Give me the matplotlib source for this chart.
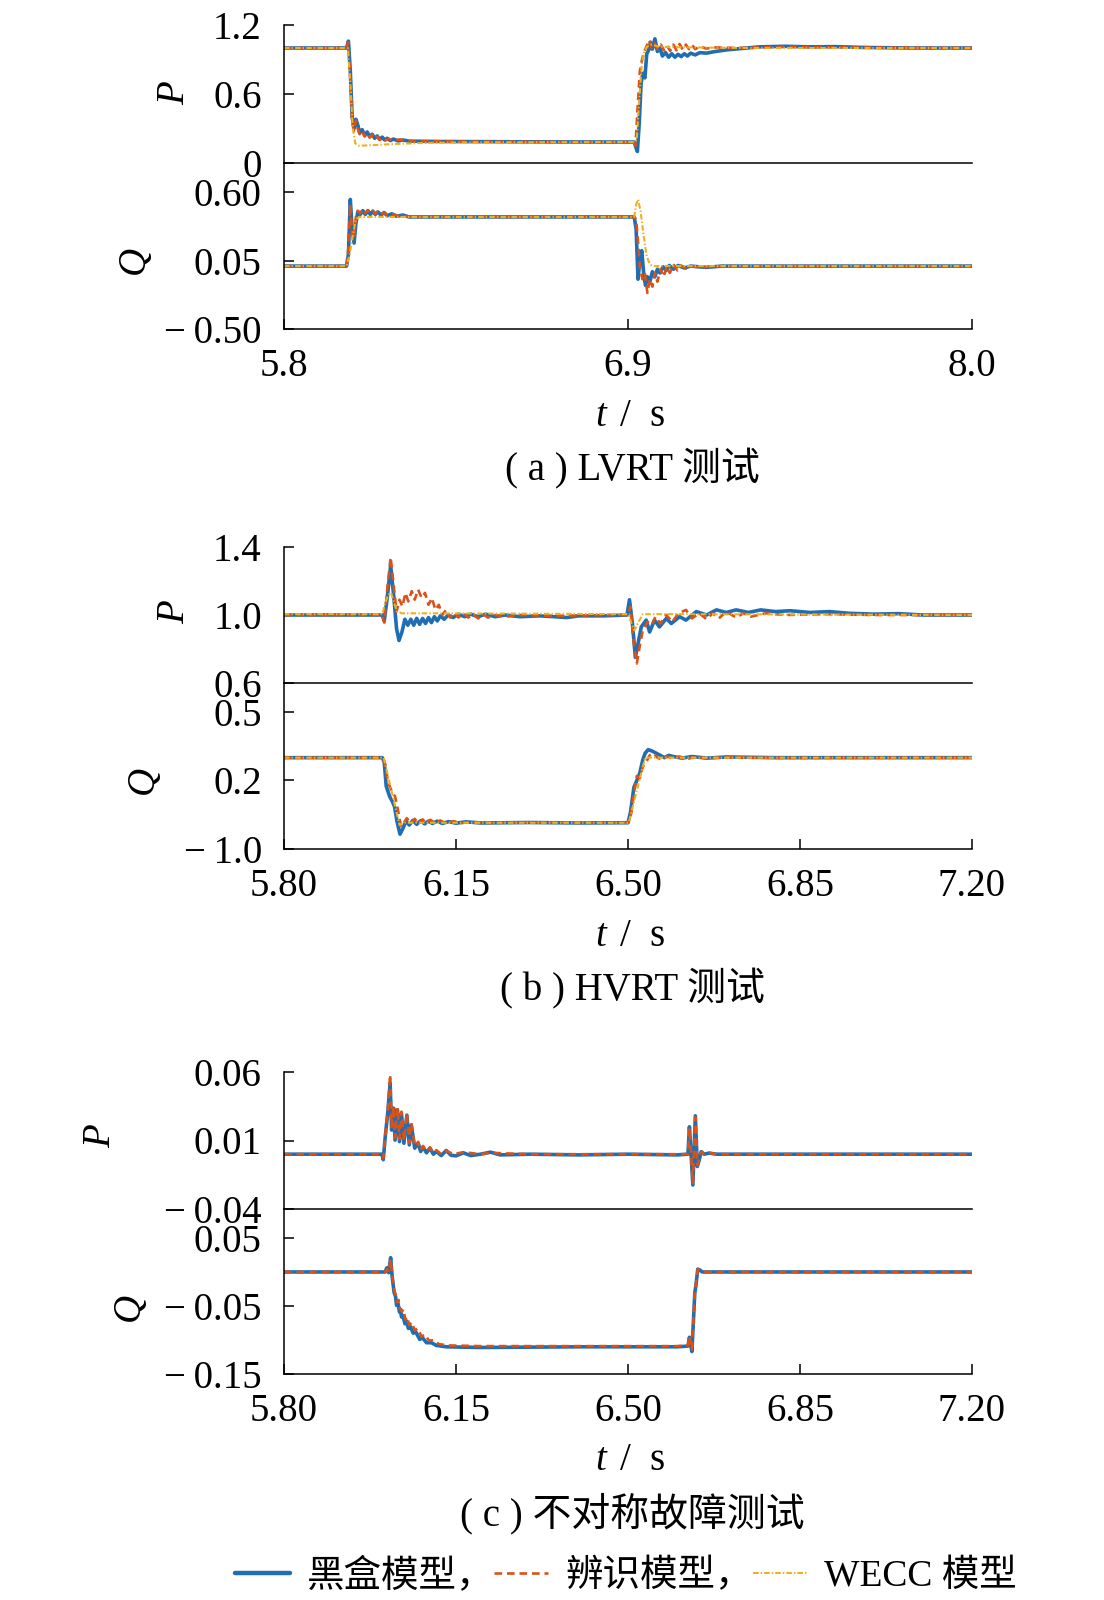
import numpy as np
import matplotlib
matplotlib.use('Agg')
import matplotlib.pyplot as plt
from matplotlib.lines import Line2D

plt.rcParams['font.family'] = ['Liberation Serif', 'Noto Sans CJK SC', 'DejaVu Sans']
plt.rcParams['mathtext.fontset'] = 'custom'
plt.rcParams['mathtext.it'] = 'Liberation Serif:italic'
plt.rcParams['mathtext.rm'] = 'Liberation Serif'
plt.rcParams['lines.scale_dashes'] = False

# ---------------- data (t [s], value) ----------------
series_names = ['黑盒模型，', '辨识模型，', 'WECC 模型']

# (a) LVRT
a_P_black = [(5.80,1.0),(6.000,1.0),(6.006,1.06),(6.012,0.80),(6.018,0.40),(6.024,0.30),(6.030,0.38),(6.036,0.33),(6.042,0.26),(6.050,0.29),(6.058,0.24),(6.066,0.27),(6.074,0.23),(6.082,0.25),(6.090,0.215),(6.098,0.235),(6.106,0.205),(6.114,0.225),(6.122,0.200),(6.130,0.215),(6.140,0.195),(6.150,0.208),(6.165,0.192),(6.180,0.200),(6.20,0.19),(6.30,0.187),(6.50,0.185),(6.70,0.183),(6.920,0.182),(6.926,0.13),(6.930,0.10),(6.936,0.35),(6.942,0.70),(6.948,0.78),(6.954,0.74),(6.960,0.95),(6.966,0.98),(6.972,1.05),(6.978,0.99),(6.986,1.08),(6.994,0.97),(7.002,1.00),(7.010,0.93),(7.020,0.96),(7.030,0.92),(7.040,0.95),(7.050,0.92),(7.060,0.945),(7.070,0.925),(7.080,0.95),(7.090,0.93),(7.100,0.955),(7.115,0.94),(7.130,0.96),(7.150,0.955),(7.180,0.97),(7.22,0.985),(7.26,0.995),(7.32,1.01),(7.40,1.015),(7.48,1.01),(7.56,1.012),(7.65,1.005),(7.80,1.0),(8.00,1.0)]
a_P_ident = [(5.80,1.0),(6.000,1.0),(6.005,1.05),(6.012,0.75),(6.018,0.35),(6.024,0.28),(6.030,0.37),(6.036,0.30),(6.042,0.25),(6.050,0.28),(6.058,0.23),(6.066,0.26),(6.074,0.22),(6.082,0.245),(6.090,0.21),(6.098,0.23),(6.106,0.20),(6.114,0.22),(6.125,0.197),(6.135,0.21),(6.15,0.195),(6.17,0.205),(6.20,0.19),(6.40,0.186),(6.70,0.183),(6.918,0.182),(6.924,0.15),(6.930,0.45),(6.938,0.80),(6.945,0.90),(6.952,0.97),(6.960,1.02),(6.968,1.07),(6.976,1.0),(6.985,1.04),(6.995,0.99),(7.005,1.03),(7.015,0.98),(7.025,1.02),(7.035,0.975),(7.045,1.03),(7.055,0.98),(7.065,1.035),(7.075,0.985),(7.085,1.03),(7.095,0.99),(7.105,1.025),(7.115,0.99),(7.13,1.015),(7.15,0.995),(7.18,1.005),(7.25,1.0),(7.40,1.01),(7.60,1.005),(8.00,1.0)]
a_P_wecc = [(5.80,1.0),(6.004,1.0),(6.012,0.70),(6.020,0.30),(6.028,0.17),(6.040,0.15),(6.080,0.155),(6.150,0.165),(6.25,0.175),(6.40,0.18),(6.92,0.182),(6.928,0.2),(6.936,0.55),(6.944,0.85),(6.952,0.97),(6.960,1.01),(6.975,1.03),(7.00,1.01),(7.10,1.005),(7.30,1.0),(8.00,1.0)]
a_Q_black = [(5.80,0.005),(6.000,0.005),(6.006,0.10),(6.012,0.54),(6.018,0.30),(6.024,0.19),(6.030,0.35),(6.036,0.44),(6.044,0.42),(6.052,0.45),(6.060,0.42),(6.068,0.45),(6.076,0.42),(6.084,0.445),(6.092,0.42),(6.100,0.44),(6.110,0.415),(6.120,0.435),(6.130,0.41),(6.145,0.425),(6.160,0.405),(6.180,0.415),(6.20,0.40),(6.92,0.40),(6.926,0.30),(6.932,-0.10),(6.938,0.05),(6.944,0.13),(6.950,-0.05),(6.956,-0.15),(6.962,-0.08),(6.970,-0.12),(6.978,-0.04),(6.986,-0.08),(6.994,-0.02),(7.002,-0.05),(7.012,0.0),(7.022,-0.03),(7.032,0.01),(7.045,-0.02),(7.060,0.01),(7.080,-0.01),(7.10,0.005),(7.15,-0.005),(7.20,0.005),(8.00,0.005)]
a_Q_ident = [(5.80,0.005),(6.000,0.005),(6.006,0.15),(6.012,0.50),(6.018,0.25),(6.024,0.22),(6.030,0.40),(6.036,0.45),(6.044,0.43),(6.052,0.46),(6.060,0.43),(6.068,0.455),(6.076,0.43),(6.084,0.45),(6.092,0.425),(6.100,0.445),(6.110,0.42),(6.120,0.435),(6.135,0.41),(6.150,0.42),(6.17,0.405),(6.20,0.40),(6.92,0.40),(6.926,0.38),(6.932,0.20),(6.938,0.0),(6.946,-0.10),(6.954,-0.05),(6.962,-0.21),(6.970,-0.10),(6.978,-0.16),(6.986,-0.05),(6.994,-0.12),(7.004,-0.02),(7.014,-0.08),(7.024,0.0),(7.034,-0.05),(7.045,0.02),(7.058,-0.03),(7.070,0.01),(7.085,-0.015),(7.10,0.005),(7.13,-0.005),(7.20,0.005),(8.00,0.005)]
a_Q_wecc = [(5.80,0.005),(6.000,0.005),(6.010,0.10),(6.020,0.25),(6.030,0.38),(6.040,0.40),(6.92,0.40),(6.926,0.50),(6.932,0.54),(6.940,0.45),(6.950,0.25),(6.960,0.08),(6.970,0.02),(6.980,0.005),(8.00,0.005)]

# (b) HVRT
b_P_black = [(5.80,1.0),(6.000,1.0),(6.004,0.965),(6.010,1.10),(6.017,1.29),(6.023,1.12),(6.029,0.92),(6.034,0.85),(6.040,0.90),(6.046,0.975),(6.052,0.94),(6.058,0.975),(6.064,0.94),(6.070,0.98),(6.076,0.945),(6.082,0.98),(6.088,0.95),(6.094,0.985),(6.100,0.955),(6.106,0.99),(6.112,0.965),(6.118,0.995),(6.126,0.975),(6.134,1.0),(6.144,0.985),(6.155,1.005),(6.168,0.99),(6.180,1.005),(6.195,0.99),(6.21,1.005),(6.23,0.99),(6.25,1.0),(6.28,0.99),(6.32,0.995),(6.35,0.99),(6.375,0.985),(6.40,0.995),(6.45,0.995),(6.498,1.0),(6.503,1.09),(6.509,0.95),(6.515,0.75),(6.521,0.84),(6.527,0.93),(6.537,0.97),(6.544,0.90),(6.554,0.97),(6.564,0.93),(6.578,0.98),(6.588,0.95),(6.605,0.99),(6.618,0.97),(6.639,1.02),(6.66,1.0),(6.68,1.03),(6.70,1.015),(6.72,1.03),(6.745,1.015),(6.77,1.03),(6.80,1.02),(6.83,1.025),(6.87,1.015),(6.91,1.02),(6.95,1.01),(7.00,1.005),(7.05,1.008),(7.10,1.0),(7.20,1.0)]
b_P_ident = [(5.80,1.0),(6.000,1.0),(6.004,0.955),(6.010,1.15),(6.017,1.34),(6.023,1.18),(6.029,1.02),(6.035,1.09),(6.041,1.05),(6.047,1.13),(6.053,1.08),(6.060,1.14),(6.066,1.09),(6.073,1.15),(6.080,1.10),(6.087,1.13),(6.094,1.06),(6.101,1.10),(6.108,1.03),(6.115,1.06),(6.122,1.0),(6.130,1.03),(6.138,0.985),(6.146,1.015),(6.155,0.985),(6.165,1.01),(6.175,0.985),(6.185,1.005),(6.195,0.98),(6.205,1.005),(6.215,0.985),(6.23,1.0),(6.25,0.99),(6.28,1.0),(6.35,0.995),(6.45,1.0),(6.500,1.0),(6.505,1.05),(6.511,0.85),(6.518,0.715),(6.524,0.82),(6.530,0.91),(6.540,0.96),(6.548,0.94),(6.556,0.99),(6.566,0.95),(6.578,1.0),(6.590,0.96),(6.603,1.01),(6.618,1.03),(6.630,0.98),(6.645,1.01),(6.660,0.975),(6.672,1.01),(6.685,0.98),(6.70,1.02),(6.72,0.985),(6.735,1.01),(6.75,0.99),(6.78,1.01),(6.82,1.0),(6.90,1.005),(7.00,1.0),(7.20,1.0)]
b_P_wecc = [(5.80,1.005),(6.000,1.005),(6.005,1.06),(6.012,1.12),(6.018,1.13),(6.024,1.07),(6.030,1.02),(6.040,1.01),(6.10,1.01),(6.50,1.005),(6.506,0.96),(6.513,0.91),(6.520,0.95),(6.530,1.005),(6.60,1.005),(7.20,1.0)]
b_Q_black = [(5.80,0.30),(6.000,0.30),(6.004,0.28),(6.008,0.175),(6.015,0.13),(6.020,0.11),(6.025,0.085),(6.030,0.02),(6.036,-0.035),(6.042,-0.01),(6.048,0.022),(6.055,0.005),(6.062,0.025),(6.070,0.008),(6.078,0.024),(6.086,0.010),(6.094,0.022),(6.102,0.012),(6.112,0.022),(6.122,0.012),(6.135,0.02),(6.15,0.013),(6.17,0.019),(6.20,0.014),(6.30,0.016),(6.40,0.014),(6.50,0.015),(6.505,0.06),(6.512,0.17),(6.518,0.20),(6.524,0.233),(6.530,0.29),(6.535,0.32),(6.541,0.335),(6.548,0.33),(6.557,0.32),(6.566,0.31),(6.574,0.30),(6.583,0.31),(6.592,0.305),(6.61,0.298),(6.63,0.305),(6.66,0.298),(6.70,0.303),(6.80,0.30),(7.20,0.30)]
b_Q_ident = [(5.80,0.30),(6.000,0.30),(6.006,0.27),(6.012,0.19),(6.020,0.15),(6.026,0.13),(6.032,0.07),(6.038,0.0),(6.044,0.015),(6.050,0.035),(6.058,0.012),(6.066,0.032),(6.074,0.010),(6.082,0.030),(6.090,0.012),(6.098,0.028),(6.108,0.012),(6.118,0.025),(6.13,0.012),(6.145,0.022),(6.16,0.013),(6.18,0.02),(6.20,0.014),(6.30,0.017),(6.50,0.015),(6.506,0.05),(6.512,0.14),(6.518,0.22),(6.524,0.21),(6.530,0.26),(6.536,0.276),(6.544,0.31),(6.552,0.32),(6.560,0.30),(6.570,0.29),(6.580,0.305),(6.592,0.295),(6.605,0.305),(6.62,0.295),(6.64,0.303),(6.66,0.297),(6.70,0.302),(6.80,0.299),(7.20,0.30)]
b_Q_wecc = [(5.80,0.30),(6.003,0.30),(6.035,0.005),(6.045,0.015),(6.50,0.015),(6.502,0.02),(6.535,0.30),(7.20,0.30)]

# (c) asymmetric fault
c_P_black = [(5.80,0.0),(5.999,0.0),(6.002,-0.004),(6.006,0.0127),(6.011,0.0297),(6.016,0.052),(6.019,0.0176),(6.023,0.0336),(6.026,0.0103),(6.031,0.0324),(6.035,0.0092),(6.039,0.0297),(6.044,0.008),(6.050,0.0285),(6.055,0.0068),(6.059,0.0214),(6.066,0.0044),(6.073,0.008),(6.078,0.002),(6.083,0.0052),(6.090,0.001),(6.097,0.0044),(6.104,0.0),(6.110,0.002),(6.120,-0.001),(6.130,0.0027),(6.140,-0.0008),(6.150,-0.0012),(6.165,0.001),(6.18,-0.001),(6.20,0.0),(6.22,0.0015),(6.24,-0.0005),(6.30,0.0),(6.40,-0.0005),(6.50,0.0),(6.60,-0.0005),(6.622,0.0),(6.625,0.020),(6.632,-0.0225),(6.637,0.028),(6.641,-0.009),(6.645,-0.004),(6.649,0.0019),(6.655,0.0),(6.665,0.0008),(6.68,0.0),(7.20,0.0)]
c_P_ident = [(5.80,0.0),(5.999,0.0),(6.002,-0.003),(6.006,0.014),(6.011,0.031),(6.016,0.058),(6.019,0.02),(6.023,0.035),(6.026,0.012),(6.031,0.034),(6.035,0.011),(6.039,0.031),(6.044,0.010),(6.050,0.030),(6.055,0.008),(6.059,0.023),(6.066,0.006),(6.073,0.009),(6.078,0.003),(6.083,0.006),(6.090,0.002),(6.097,0.005),(6.104,0.001),(6.110,0.003),(6.120,0.0),(6.130,0.0025),(6.145,0.0),(6.165,0.0015),(6.20,0.0),(6.22,0.001),(6.30,0.0),(6.622,0.0),(6.625,0.019),(6.632,-0.021),(6.637,0.027),(6.641,-0.008),(6.645,-0.003),(6.649,0.002),(6.655,0.0),(6.665,0.001),(6.68,0.0),(7.20,0.0)]
c_Q_black = [(5.80,0.0),(6.006,0.0),(6.009,0.006),(6.013,-0.001),(6.017,0.021),(6.020,-0.006),(6.024,-0.030),(6.027,-0.036),(6.029,-0.049),(6.032,-0.046),(6.035,-0.059),(6.037,-0.055),(6.039,-0.066),(6.042,-0.064),(6.046,-0.076),(6.049,-0.072),(6.053,-0.083),(6.057,-0.080),(6.063,-0.090),(6.068,-0.088),(6.076,-0.099),(6.082,-0.097),(6.090,-0.104),(6.100,-0.104),(6.110,-0.108),(6.130,-0.110),(6.20,-0.111),(6.40,-0.110),(6.60,-0.110),(6.622,-0.109),(6.625,-0.096),(6.630,-0.117),(6.633,-0.074),(6.636,-0.030),(6.638,-0.021),(6.642,0.0043),(6.646,0.003),(6.651,0.0),(7.20,0.0)]
c_Q_ident = [(5.80,0.0),(6.006,0.0),(6.010,0.004),(6.013,0.0),(6.017,0.019),(6.020,-0.004),(6.024,-0.026),(6.027,-0.033),(6.030,-0.045),(6.033,-0.041),(6.036,-0.054),(6.040,-0.058),(6.043,-0.055),(6.047,-0.070),(6.050,-0.066),(6.055,-0.078),(6.060,-0.074),(6.066,-0.086),(6.072,-0.083),(6.080,-0.095),(6.087,-0.092),(6.095,-0.101),(6.105,-0.100),(6.115,-0.106),(6.135,-0.108),(6.20,-0.109),(6.40,-0.109),(6.60,-0.109),(6.622,-0.108),(6.625,-0.094),(6.630,-0.114),(6.633,-0.070),(6.636,-0.028),(6.638,-0.019),(6.642,0.004),(6.646,0.002),(6.651,0.0),(7.20,0.0)]

# ticks and labels
a_xticks = [5.8, 6.9, 8.0]
a_xlabels = ['5.8', '6.9', '8.0']
bc_xticks = [5.80, 6.15, 6.50, 6.85, 7.20]
bc_xlabels = ['5.80', '6.15', '6.50', '6.85', '7.20']
a_P_ticks, a_P_labels = [0, 0.6, 1.2], ['0', '0.6', '1.2']
a_Q_ticks, a_Q_labels = [-0.50, 0.05, 0.60], ['\u2212\u20090.50', '0.05', '0.60']
b_P_ticks, b_P_labels = [0.6, 1.0, 1.4], ['0.6', '1.0', '1.4']
b_Q_ticks, b_Q_labels = [-0.1, 0.2, 0.5], ['\u2212\u20091.0', '0.2', '0.5']
c_P_ticks, c_P_labels = [-0.04, 0.01, 0.06], ['\u2212\u20090.04', '0.01', '0.06']
c_Q_ticks, c_Q_labels = [-0.15, -0.05, 0.05], ['\u2212\u20090.15', '\u2212\u20090.05', '0.05']
captions = ['( a ) LVRT 测试', '( b ) HVRT 测试', '( c ) 不对称故障测试']
xlabel_text = r'$t\ \,/\ \ \mathrm{s}$'

# ---------------- styling ----------------
W, H = 1104, 1600
BLUE, RED, YEL = '#1F6DB3', '#D95319', '#EDB120'
styles = [dict(color=BLUE, lw=2.6, solid_capstyle='round'),
          dict(color=RED, lw=1.9, dashes=(5.5, 3.5)),
          dict(color=YEL, lw=1.5, dashes=(4, 1.5, 1, 1.5))]
FS_TICK = 28
FS_TXT = 28

fig = plt.figure(figsize=(W / 100, H / 100), dpi=100)


def box(top, bottom, left=284, right=972):
    return [left / W, 1 - bottom / H, (right - left) / W, (bottom - top) / H]


def style_axes(ax, is_top):
    for s in ['top', 'right']:
        ax.spines[s].set_visible(False)
    for s in ['left', 'bottom']:
        ax.spines[s].set_linewidth(1.1)
    ax.tick_params(axis='y', direction='in', length=7, width=1.1, pad=16, labelsize=FS_TICK)
    if is_top:
        ax.tick_params(axis='x', length=0, labelbottom=False)
    else:
        ax.tick_params(axis='x', direction='in', length=7, width=1.1, pad=14, labelsize=FS_TICK)


def draw(ax, series_list):
    for data, st in zip(series_list, styles):
        if data is None:
            continue
        arr = np.array(data)
        ax.plot(arr[:, 0], arr[:, 1], **st)


panels = [
    dict(P=[a_P_black, a_P_ident, a_P_wecc], Q=[a_Q_black, a_Q_ident, a_Q_wecc],
         xlim=(5.8, 8.0), xt=a_xticks, xl=a_xlabels,
         Pt=a_P_ticks, Pl=a_P_labels, Plim=(0, 1.2),
         Qt=a_Q_ticks, Ql=a_Q_labels, Qlim=(-0.50, 0.833),
         Pbox=(25, 163), Qbox=(163, 329),
         Plab=(175, 93), Qlab=(134, 260)),
    dict(P=[b_P_black, b_P_ident, b_P_wecc], Q=[b_Q_black, b_Q_ident, b_Q_wecc],
         xlim=(5.80, 7.20), xt=bc_xticks, xl=bc_xlabels,
         Pt=b_P_ticks, Pl=b_P_labels, Plim=(0.6, 1.4),
         Qt=b_Q_ticks, Ql=b_Q_labels, Qlim=(-0.1, 0.627),
         Pbox=(547, 683), Qbox=(683, 849),
         Plab=(175, 612), Qlab=(143, 780)),
    dict(P=[c_P_black, c_P_ident, None], Q=[c_Q_black, c_Q_ident, None],
         xlim=(5.80, 7.20), xt=bc_xticks, xl=bc_xlabels,
         Pt=c_P_ticks, Pl=c_P_labels, Plim=(-0.04, 0.06),
         Qt=c_Q_ticks, Ql=c_Q_labels, Qlim=(-0.15, 0.0926),
         Pbox=(1072, 1209), Qbox=(1209, 1374),
         Plab=(101, 1136), Qlab=(129, 1307)),
]

for i, p in enumerate(panels):
    axP = fig.add_axes(box(*p['Pbox']))
    axQ = fig.add_axes(box(*p['Qbox']))
    draw(axP, p['P'])
    draw(axQ, p['Q'])
    for ax, key in ((axP, 'P'), (axQ, 'Q')):
        ax.set_xlim(*p['xlim'])
        ax.set_ylim(*p[key + 'lim'])
        ax.set_yticks(p[key + 't'])
        ax.set_yticklabels(p[key + 'l'])
        ax.set_xticks(p['xt'])
        ax.patch.set_alpha(0)
    axQ.set_xticklabels(p['xl'])
    style_axes(axP, True)
    style_axes(axQ, False)
    # axis letters
    fig.text(p['Plab'][0] / W, 1 - p['Plab'][1] / H, 'P', rotation=90, style='italic',
             fontsize=FS_TXT, ha='center', va='center')
    fig.text(p['Qlab'][0] / W, 1 - p['Qlab'][1] / H, 'Q', rotation=90, style='italic',
             fontsize=FS_TXT, ha='center', va='center')
    spine_y = p['Qbox'][1]
    fig.text(630 / W, 1 - (spine_y + 87) / H, xlabel_text, fontsize=FS_TXT,
             ha='center', va='center')
    fig.text(632 / W, 1 - (spine_y + 140) / H, captions[i], fontsize=FS_TXT,
             ha='center', va='center')

handles = [Line2D([], [], **st) for st in styles]
handles[0].set_linewidth(3.2)
fig.legend(handles, series_names, loc='center', bbox_to_anchor=(626 / W, 1 - 1576 / H),
           ncol=3, frameon=False, fontsize=27, handlelength=1.45, handletextpad=0.45,
           columnspacing=0.0, borderpad=0, borderaxespad=0)

fig.savefig('out.png', dpi=100)
